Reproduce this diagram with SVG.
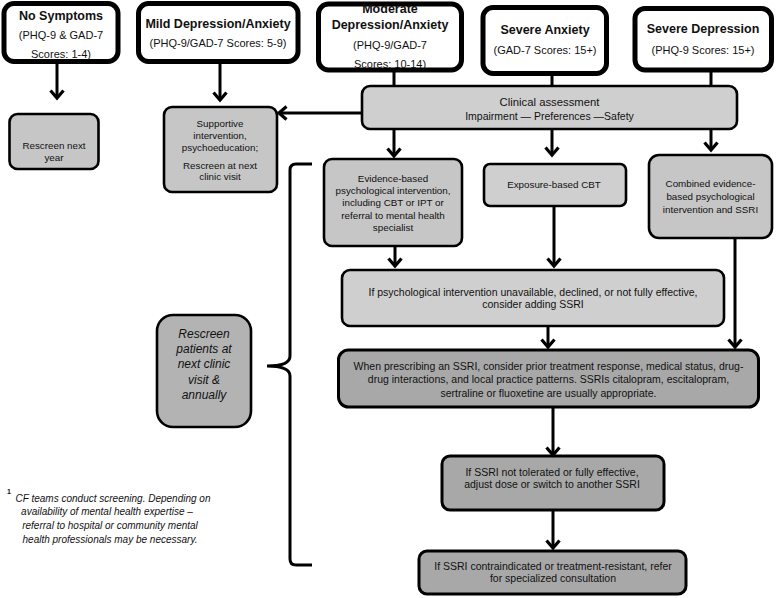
<svg xmlns="http://www.w3.org/2000/svg" width="777" height="598" viewBox="0 0 777 598">
<defs>
<marker id="ah" viewBox="0 0 16 16" markerWidth="16" markerHeight="16" refX="13" refY="8" orient="auto" markerUnits="userSpaceOnUse">
<path d="M5.5,1.5 L13,8 L5.5,14.5" fill="none" stroke="#000" stroke-width="3.2"/>
</marker>
<style>
.top{fill:#fff;stroke:#000;stroke-width:5}
.g1{fill:#c6c6c6;stroke:#000;stroke-width:2.6}
.g2{fill:#cfcfcf;stroke:#000;stroke-width:2.6}
.g3{fill:#a8a8a8;stroke:#000;stroke-width:3}
text{font-family:"Liberation Sans",Arial,sans-serif;fill:#111;text-anchor:middle}
.h{font-size:12.5px;font-weight:bold}
.s{font-size:11px}
.b{font-size:9.8px}
.w{font-size:10.5px}
.ca{font-size:11.3px}
.it{font-size:12px;font-style:italic}
.fn{font-size:10px;font-style:italic}
.c{fill:none;stroke:#000;stroke-width:3}
</style>
</defs>
<rect width="777" height="598" fill="#fff"/>

<g id="no-symptoms">
<rect class="top" x="4" y="3.5" width="114" height="58" rx="10"/>
<text class="h" x="61" y="19.5">No Symptoms</text>
<text class="s" x="61" y="39">(PHQ-9 &amp; GAD-7</text>
<text class="s" x="61" y="57.5">Scores: 1-4)</text>
</g>
<g id="mild">
<rect class="top" x="138.5" y="3.5" width="159.5" height="58" rx="10"/>
<text class="h" x="218" y="28.3">Mild Depression/Anxiety</text>
<text class="s" x="218" y="47">(PHQ-9/GAD-7 Scores: 5-9)</text>
</g>
<g id="moderate">
<rect class="top" x="318.5" y="4" width="143" height="66" rx="10"/>
<text class="h" x="390" y="13">Moderate</text>
<text class="h" x="390" y="28.5">Depression/Anxiety</text>
<text class="s" x="390" y="48.5">(PHQ-9/GAD-7</text>
<text class="s" x="390" y="68.3">Scores: 10-14)</text>
</g>
<g id="severe-anxiety">
<rect class="top" x="483" y="7.5" width="123.5" height="66" rx="10"/>
<text class="h" x="545" y="34.3">Severe Anxiety</text>
<text class="s" x="545" y="54">(GAD-7 Scores: 15+)</text>
</g>
<g id="severe-depression">
<rect class="top" x="635" y="8.5" width="136.5" height="61.5" rx="10"/>
<text class="h" x="703" y="33.3">Severe Depression</text>
<text class="s" x="703" y="54">(PHQ-9 Scores: 15+)</text>
</g>

<g id="rescreen-next-year">
<rect class="g1" x="9.5" y="114" width="89" height="55" rx="8"/>
<text class="b" x="54" y="148.5">Rescreen next</text>
<text class="b" x="54" y="160.5">year</text>
</g>
<g id="supportive">
<rect class="g1" x="164" y="107" width="113" height="85" rx="8"/>
<text class="b" x="220" y="126.8">Supportive</text>
<text class="b" x="220" y="138.8">intervention,</text>
<text class="b" x="220" y="150.5">psychoeducation;</text>
<text class="b" x="220" y="168.5">Rescreen at next</text>
<text class="b" x="220" y="180.3">clinic visit</text>
</g>
<g id="clinical-assessment">
<rect class="g2" x="362" y="86" width="375" height="43" rx="8"/>
<text class="ca" x="549.5" y="105.5">Clinical assessment</text>
<text class="w" x="549.5" y="119.5">Impairment — Preferences —Safety</text>
</g>
<g id="evidence-based">
<rect class="g1" x="324" y="159" width="138" height="87" rx="8"/>
<text class="b" x="393" y="181.8">Evidence-based</text>
<text class="b" x="393" y="193.5">psychological intervention,</text>
<text class="b" x="393" y="206.2">including CBT or IPT or</text>
<text class="b" x="393" y="218.5">referral to mental health</text>
<text class="b" x="393" y="230.8">specialist</text>
</g>
<g id="exposure-cbt">
<rect class="g2" x="484" y="164" width="142" height="42" rx="6"/>
<text class="b" x="554" y="187.5">Exposure-based CBT</text>
</g>
<g id="combined">
<rect class="g1" x="649" y="155" width="123" height="83" rx="10"/>
<text class="b" x="710.5" y="186.8">Combined evidence-</text>
<text class="b" x="710.5" y="200.2">based psychological</text>
<text class="b" x="710.5" y="212.8">intervention and SSRI</text>
</g>
<g id="if-psychological">
<rect class="g2" x="342" y="270" width="382" height="56" rx="8"/>
<text class="w" x="533" y="295.5">If psychological intervention unavailable, declined, or not fully effective,</text>
<text class="w" x="533" y="308">consider adding SSRI</text>
</g>
<g id="when-prescribing">
<rect class="g3" x="338.5" y="350" width="420" height="57" rx="10"/>
<text class="w" x="548.5" y="369.8">When prescribing an SSRI, consider prior treatment response, medical status, drug-</text>
<text class="w" x="548.5" y="383">drug interactions, and local practice patterns. SSRIs citalopram, escitalopram,</text>
<text class="w" x="548.5" y="397">sertraline or fluoxetine are usually appropriate.</text>
</g>
<g id="not-tolerated">
<rect class="g3" x="442" y="456" width="222" height="54" rx="8"/>
<text class="w" x="552" y="475.5">If SSRI not tolerated or fully effective,</text>
<text class="w" x="552" y="488">adjust dose or switch to another SSRI</text>
</g>
<g id="contraindicated">
<rect class="g3" x="419" y="551" width="267" height="43" rx="8"/>
<text class="w" x="553" y="569.8">If SSRI contraindicated or treatment-resistant, refer</text>
<text class="w" x="553" y="582">for specialized consultation</text>
</g>
<g id="rescreen-patients">
<rect fill="#b3b3b3" stroke="#000" stroke-width="2.6" x="157" y="315" width="94" height="112" rx="16"/>
<text class="it" x="204" y="337.5">Rescreen</text>
<text class="it" x="204" y="352.5">patients at</text>
<text class="it" x="204" y="367.5">next clinic</text>
<text class="it" x="204" y="383.5">visit &amp;</text>
<text class="it" x="204" y="399">annually</text>
</g>
<g id="footnote">
<text x="9" y="494" style="font-size:7px;font-weight:bold">1</text>
<text class="fn" x="113" y="501.5">CF teams conduct screening. Depending on</text>
<text class="fn" x="107" y="515">availability of mental health expertise –</text>
<text class="fn" x="110" y="529">referral to hospital or community mental</text>
<text class="fn" x="110" y="543">health professionals may be necessary.</text>
</g>

<g id="connectors">
<path class="c" d="M57,61.5 V98" marker-end="url(#ah)"/>
<path class="c" d="M220,61.5 V100" marker-end="url(#ah)"/>
<path class="c" d="M394,70 V86"/>
<path class="c" d="M552,73.5 V86"/>
<path class="c" d="M711,70 V86"/>
<path class="c" d="M362,113 H279" marker-end="url(#ah)"/>
<path class="c" d="M394,129 V156" marker-end="url(#ah)"/>
<path class="c" d="M552,129 V155" marker-end="url(#ah)"/>
<path class="c" d="M711,129 V150" marker-end="url(#ah)"/>
<path class="c" d="M395,246 V266" marker-end="url(#ah)"/>
<path class="c" d="M554,206 V266" marker-end="url(#ah)"/>
<path class="c" d="M548,326 V347" marker-end="url(#ah)"/>
<path class="c" d="M735,238 V347" marker-end="url(#ah)"/>
<path class="c" d="M553,407 V455" marker-end="url(#ah)"/>
<path class="c" d="M553,510 V548" marker-end="url(#ah)"/>
<path class="c" d="M312,164 L296,164 Q290,164 290,170 L290,356 Q290,366 267,366 Q290,366 290,376 L290,559 Q290,565 296,565 L312,565"/>
</g>
</svg>
